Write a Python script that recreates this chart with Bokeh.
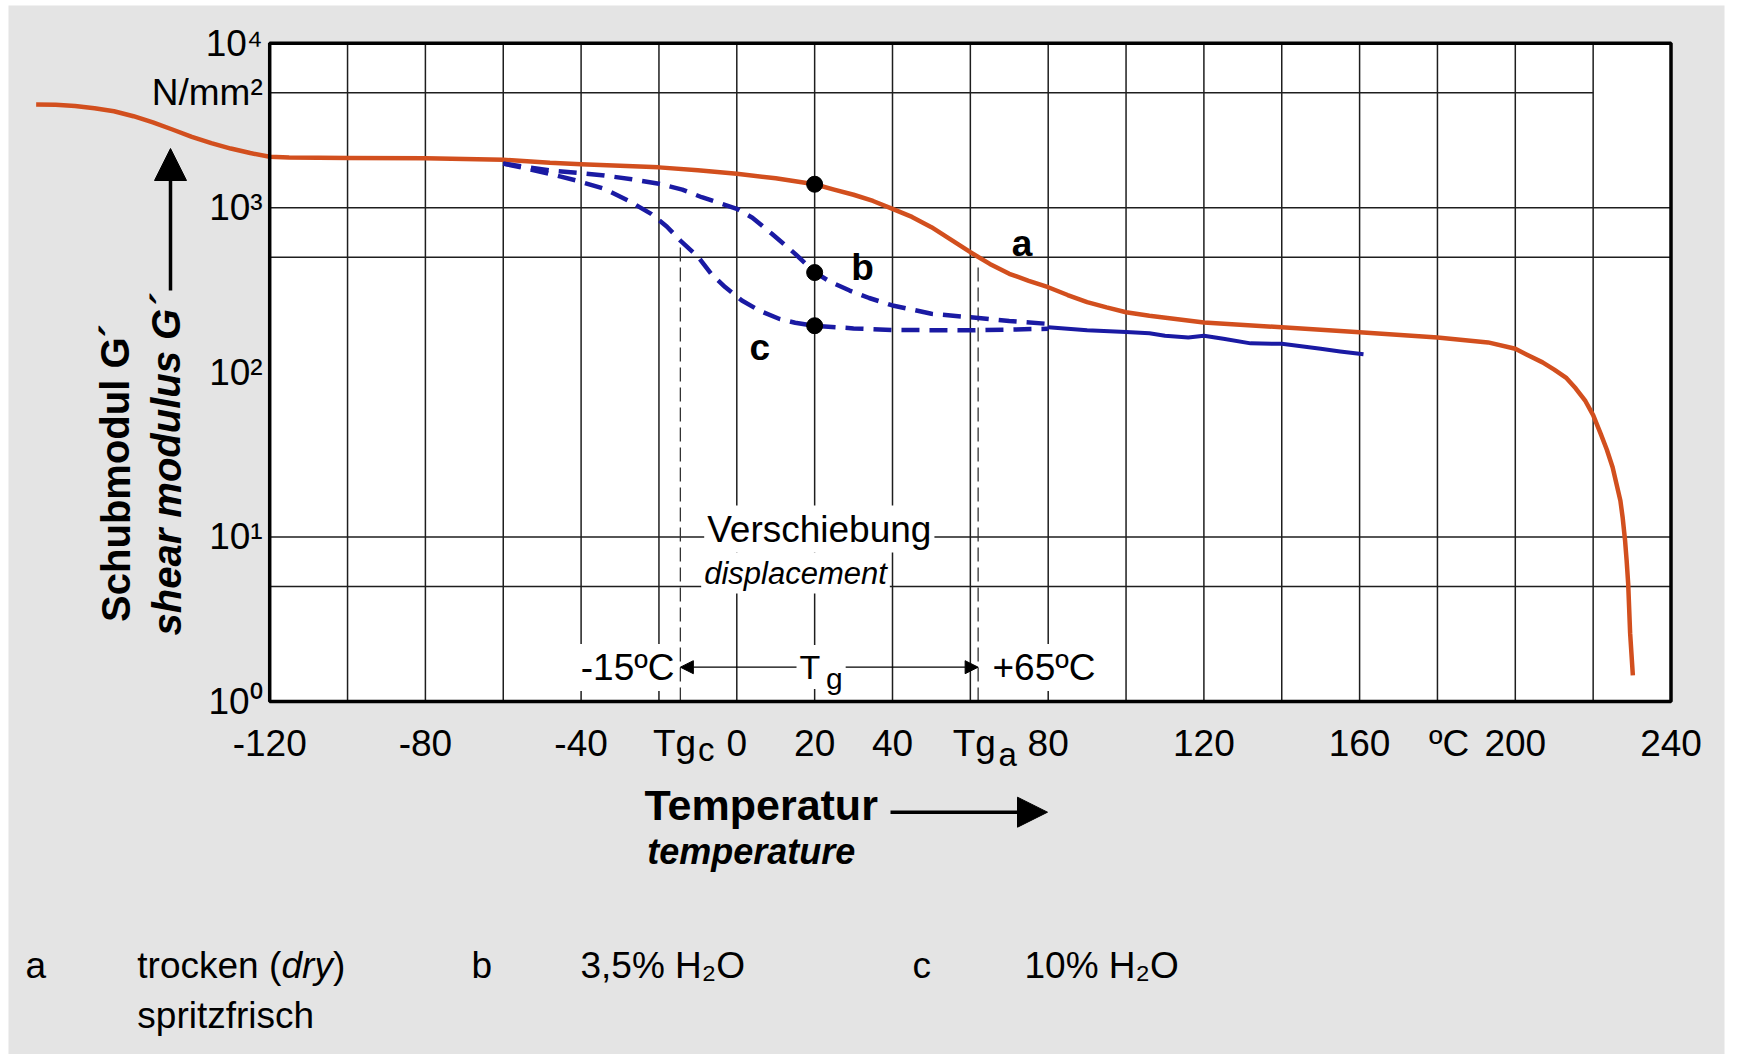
from bokeh.plotting import figure
from bokeh.models import Range1d, FixedTicker, Label, Arrow, NormalHead, BoxAnnotation
from bokeh.embed import file_html
from bokeh.resources import INLINE

# ---------------- data ----------------
# curve a: dry (trocken, spritzfrisch)
temp_a = [-180, -175, -170, -165, -160, -155, -150, -145, -140, -135, -130, -125, -120,
          -115, -100, -80, -60, -48, -40, -30, -20, -10, 0, 10, 20, 25, 30, 35, 40, 45,
          50, 55, 60, 65, 70, 75, 80, 85, 90, 95, 100, 106, 120, 140, 160, 180, 193, 200,
          203, 207, 210, 213, 215.5, 218, 220, 222, 223.5, 225, 226, 227, 227.6, 228.2,
          228.6, 229, 229.5, 230.2]
gmod_a = [4240, 4220, 4150, 4020, 3860, 3600, 3300, 2990, 2700, 2470, 2290, 2150, 2040,
          2020, 2010, 2000, 1960, 1875, 1840, 1800, 1760, 1690, 1610, 1510, 1390, 1290,
          1200, 1100, 985, 880, 762, 640, 537, 456, 397, 360, 329, 295, 267, 248, 232, 221,
          201, 188, 175, 163, 152, 139, 128, 115, 104, 93, 80, 67, 55, 42, 34, 26.5, 21,
          16.6, 13, 9.5, 7.2, 5.2, 2.6, 1.44]
# curve b: 3,5 % H2O (dashed)
temp_b = [-60, -48, -41, -34, -27, -20, -14, -9, -4, 0, 4, 9, 12, 15, 20, 24, 29, 34, 40,
          50, 60, 70, 80]
gmod_b = [1855, 1684, 1630, 1571, 1490, 1399, 1290, 1159, 1060, 986, 870, 695, 605, 525,
          406, 355, 314, 283, 255, 227, 216, 205, 197]
# curve c: 10 % H2O (dashed)
temp_c = [-60, -54, -48, -41, -34, -28, -22, -18, -14.5, -10, -6.6, -3, 1.3, 6, 11, 15,
          20, 30, 40, 60, 80]
gmod_c = [1855, 1730, 1607, 1460, 1303, 1110, 918, 770, 632, 505, 397, 330, 273, 236,
          211, 200, 192, 185, 181, 180, 184]
# common wet curve beyond the transition (solid blue)
temp_w = [80, 90, 100, 106, 110, 116, 120, 125, 132, 140, 145, 150, 155, 161]
gmod_w = [188, 180, 176, 173, 167, 163, 167, 160, 150, 149, 144, 139, 134, 129]
# marked points at 20 °C
dot_temp = [20, 20, 20]
dot_gmod = [1390, 404, 192]

x_tick_values = [-120, -80, -40, 0, 20, 40, 80, 120, 160, 200, 240]
y_tick_values = [1, 10, 100, 1000, 5000, 10000]
y_tick_labels = ["10⁰", "10¹", "10²", "10³", "N/mm²", "10⁴"]
x_grid = [-100, -80, -60, -40, -20, 0, 20, 40, 60, 80, 100, 120, 140, 160, 180, 200, 220]
y_grid = [5, 10, 500, 1000, 5000]
y_grid_end = [240, 240, 240, 240, 220]

T_MIN, T_MAX = -120, 240
G_MIN, G_MAX = 1, 10000
TG_C, TG_A = -14.5, 62
TG_C_TOP, TG_A_TOP = 632, 465

# ---------------- pixel calibration for annotations ----------------
W, H = 1737, 1054
PX_L, PX_R = 269.2, 1670.5
PY_B, PY_T = 701.0, 42.7
SX = (PX_R - PX_L) / (T_MAX - T_MIN)
SY = (PY_B - PY_T) / 4.0
BASE_SHIFT = 0.4  # Label baseline correction (em)


def T(px):
    return T_MIN + (px - PX_L) / SX


def G(py):
    return 10 ** ((PY_B - py) / SY)


FONT = "Liberation Sans"
RED = "#d24f1e"
BLUE = "#1a1aa3"
GRAY = "#e4e4e4"

p = figure(width=W, height=H, x_range=Range1d(T(0), T(W)), y_range=Range1d(G(H), G(0)),
           y_axis_type="log", output_backend="svg", toolbar_location=None,
           min_border=0, background_fill_color="white", border_fill_color="white")
p.outline_line_color = None
p.grid.visible = False

# backgrounds
p.quad(left=[T(8)], right=[T(1724)], bottom=[G(H)], top=[G(5)], fill_color=GRAY, line_color=None)
p.quad(left=[T_MIN], right=[T_MAX], bottom=[G_MIN], top=[G_MAX], fill_color="white", line_color=None)

# grid
p.segment(x0=x_grid, y0=[G_MIN] * len(x_grid), x1=x_grid, y1=[G_MAX] * len(x_grid),
          line_color="#1e1e1e", line_width=1.5)
p.segment(x0=[T_MIN] * len(y_grid), y0=y_grid, x1=y_grid_end, y1=y_grid,
          line_color="#1e1e1e", line_width=1.5)

# Tg marker lines
p.segment(x0=[TG_C, TG_A], y0=[G_MIN, G_MIN], x1=[TG_C, TG_A], y1=[TG_C_TOP, TG_A_TOP],
          line_color="#333333", line_width=1.3, line_dash="14 6")

# curves
p.line(temp_a, gmod_a, line_color=RED, line_width=4.5, line_join="round")
p.line(temp_b, gmod_b, line_color=BLUE, line_width=4.5, line_dash="18 10")
p.line(temp_c, gmod_c, line_color=BLUE, line_width=4.5, line_dash="18 10")
p.line(temp_w, gmod_w, line_color=BLUE, line_width=4, line_join="round")
p.scatter(dot_temp, dot_gmod, size=16, color="black")

# axes (placed on the box edges)
xa = p.xaxis[0]
xa.fixed_location = G_MIN
xa.ticker = FixedTicker(ticks=x_tick_values + [-16, 61, 183])
x_over = {v: str(v) for v in x_tick_values}
x_over.update({-16: "Tg", 61: "Tg", 183: "ºC"})
xa.major_label_overrides = x_over
ya = p.yaxis[0]
ya.fixed_location = T_MIN
ya.ticker = FixedTicker(ticks=y_tick_values)
ya.major_label_overrides = dict(zip(y_tick_values, y_tick_labels))
for ax, so in ((xa, 21), (ya, 7)):
    ax.axis_line_color = None
    ax.major_tick_line_color = None
    ax.minor_tick_line_color = None
    ax.major_tick_out = 0
    ax.major_tick_in = 0
    ax.major_label_standoff = so
    ax.major_label_text_font = FONT
    ax.major_label_text_font_size = "37px"
    ax.major_label_text_color = "black"


def lab(px, py, text, size=37, style="normal", align="left", bg=None, rotated=False):
    if rotated:
        px = px - BASE_SHIFT * size
    else:
        py = py - BASE_SHIFT * size
    lb = Label(x=T(px), y=G(py), text=text, text_font=FONT, text_font_size=f"{size}px",
               text_font_style=style, text_align=align, text_baseline="alphabetic",
               angle=1.5708 if rotated else 0.0, text_color="black")
    if bg:
        lb.background_fill_color = bg
        lb.padding = 3
    p.add_layout(lb)


# arrows
p.add_layout(Arrow(start=NormalHead(size=13, fill_color="black", line_color="black"),
                   end=NormalHead(size=13, fill_color="black", line_color="black"),
                   x_start=TG_C, y_start=G(666.7), x_end=TG_A, y_end=G(666.7),
                   line_width=1.3, line_color="black"))
p.add_layout(Arrow(end=NormalHead(size=32, fill_color="black", line_color="black"),
                   x_start=T(170), y_start=G(290), x_end=T(170), y_end=G(148),
                   line_width=3.5, line_color="black"))
p.add_layout(Arrow(end=NormalHead(size=30, fill_color="black", line_color="black"),
                   x_start=T(890), y_start=G(811.7), x_end=T(1047), y_end=G(811.7),
                   line_width=3.5, line_color="black"))

# subscripts of the Tg tick labels
lab(697.5, 762, "c", size=33)
lab(998, 767, "a", size=33)

# in-plot annotations
lab(818.8, 543.3, "Verschiebung", bg="white", align="center")
lab(795, 585, "displacement", size=31, style="italic", bg="white", align="center")
lab(677, 681.7, "-15ºC", bg="white", align="right")
lab(989, 681.7, "+65ºC", bg="white", align="left")
lab(809.4, 680, "T", size=34, bg="white", align="center")
lab(822.5, 690, "g", size=30, bg="white", align="left")
lab(1021.5, 258, "a", size=37, style="bold", align="center")
lab(862, 281.7, "b", size=37, style="bold", align="center")
lab(759.4, 361.7, "c", size=37, style="bold", align="center")

# axis titles
lab(131, 472.5, "Schubmodul G´", size=40, style="bold", align="center", rotated=True)
lab(182, 465, "shear modulus G´", size=40, style="bold italic", align="center", rotated=True)
lab(644, 821.7, "Temperatur", size=43, style="bold")
lab(646.7, 865, "temperature", size=36, style="bold italic")

# legend
lab(25, 980, "a")
lab(136.8, 980, "trocken (")
lab(281, 980, "dry", style="italic")
lab(332.5, 980, ")")
lab(136.8, 1030, "spritzfrisch")
lab(471, 980, "b")
lab(580, 980, "3,5% H₂O")
lab(912, 980, "c")
lab(1024, 980, "10% H₂O")

# frame on top of everything inside
p.add_layout(BoxAnnotation(left=T_MIN, right=T_MAX, bottom=G_MIN, top=G_MAX,
                           fill_color=None, fill_alpha=0, line_color="black",
                           line_alpha=1.0, line_width=3.5))

open("out.html", "w").write(file_html(p, INLINE))
